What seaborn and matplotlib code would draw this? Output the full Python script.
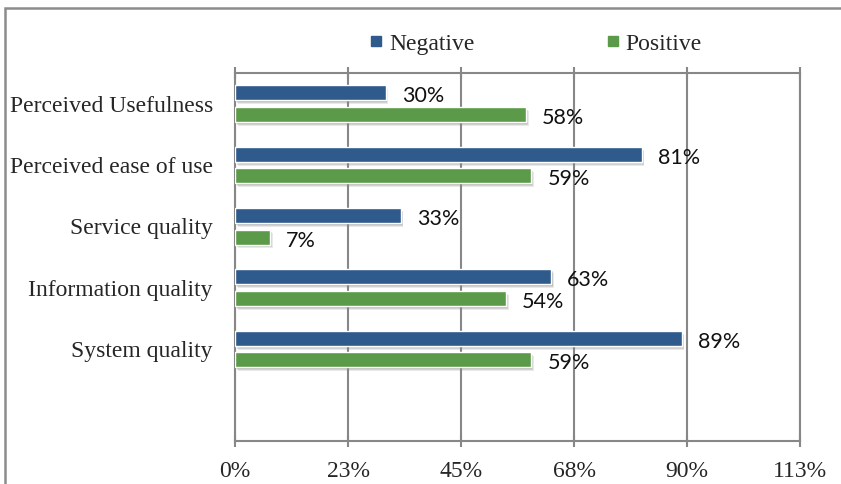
import matplotlib
matplotlib.use("Agg")
import matplotlib.pyplot as plt
from matplotlib.patches import Rectangle
from matplotlib.lines import Line2D
from matplotlib.transforms import ScaledTranslation
import seaborn as sns
import pandas as pd
import numpy as np

categories = ["Perceived Usefulness", "Perceived ease of use", "Service quality",
              "Information quality", "System quality"]
negative = [30, 81, 33, 63, 89]
positive = [58, 59, 7, 54, 59]
series_names = ["Negative", "Positive"]
colors = ["#2E5A8C", "#5B9A48"]
x_ticks = [0, 22.5, 45, 67.5, 90, 112.5]
x_tick_labels = ["0%", "23%", "45%", "68%", "90%", "113%"]

df = pd.DataFrame({
    "category": categories * 2,
    "series": [series_names[0]] * len(categories) + [series_names[1]] * len(categories),
    "value": negative + positive,
})

sns.set_style("white")
plt.rcParams["font.family"] = ["Liberation Serif", "DejaVu Serif"]

fig = plt.figure(figsize=(8.41, 4.84), dpi=100)
ax = fig.add_axes([235 / 841, 1 - 441 / 484, (800 - 235) / 841, (441 - 73) / 484])

sns.barplot(data=df, x="value", y="category", hue="series", hue_order=series_names,
            order=categories, palette=colors, orient="h", width=0.7, gap=0.3,
            edgecolor="white", linewidth=1.0, saturation=1, errorbar=None, ax=ax,
            legend=False, zorder=3)

# bar shadows (soft, offset down-right)
for cont in ax.containers:
    for b in cont:
        x0, y0 = b.get_x(), b.get_y()
        w, h = b.get_width(), b.get_height()
        for k, (dx, dy, a) in enumerate([(1.8, -2.8, 0.18), (1.3, -2.0, 0.25), (0.8, -1.2, 0.3)]):
            tr = ax.transData + ScaledTranslation(dx / 72, dy / 72, fig.dpi_scale_trans)
            ax.add_patch(Rectangle((x0, y0), w, h, transform=tr, facecolor="#8a8a8a",
                                   edgecolor="none", alpha=a, zorder=2.5))

# data labels
for cont in ax.containers:
    for b in cont:
        v = b.get_width()
        ax.annotate(f"{int(round(v))}%", (v, b.get_y() + b.get_height() / 2),
                    xytext=(11.5, -2.5), textcoords="offset points", ha="left",
                    va="center", fontfamily="Lato", fontsize=15.5, color="#111111",
                    zorder=5)

ax.set_xlim(0, 112.5)
ax.set_ylim(5.5, -0.5)
ax.set_xticks(x_ticks)
ax.set_xticklabels(x_tick_labels, fontsize=17)
ax.set_xlabel("")
ax.set_ylabel("")
ax.tick_params(axis="y", which="major", length=0, pad=16, labelsize=17)
ax.set_yticks(np.arange(-0.5, 6.0, 1.0), minor=True)
ax.tick_params(axis="y", which="minor", length=7, width=1.5, color="#878787", direction="out")
ax.tick_params(axis="x", which="major", top=True, bottom=True, labeltop=False,
               labelbottom=True, direction="inout", length=9, width=1.5,
               color="#878787", pad=10)
ax.grid(axis="x", color="#878787", linewidth=1.5, zorder=0)
ax.set_axisbelow(True)
for s in ax.spines.values():
    s.set_visible(True)
    s.set_color("#878787")
    s.set_linewidth(1.5)

# legend
handles = [Line2D([], [], marker="s", linestyle="", color=c, markersize=6.5) for c in colors]
fig.legend(handles, series_names, loc="center", bbox_to_anchor=(536 / 841, 1 - 44 / 484),
           ncol=2, frameon=False, fontsize=17, handlelength=0.5, handletextpad=0.3,
           columnspacing=5.6)

# outer frame
fig.patches.append(Rectangle((4.5 / 841, -0.1), 1.2, 1 - 8 / 484 + 0.1,
                             transform=fig.transFigure, fill=False,
                             edgecolor="#8c8c8c", linewidth=1.8))

fig.savefig("out.png", dpi=100)
